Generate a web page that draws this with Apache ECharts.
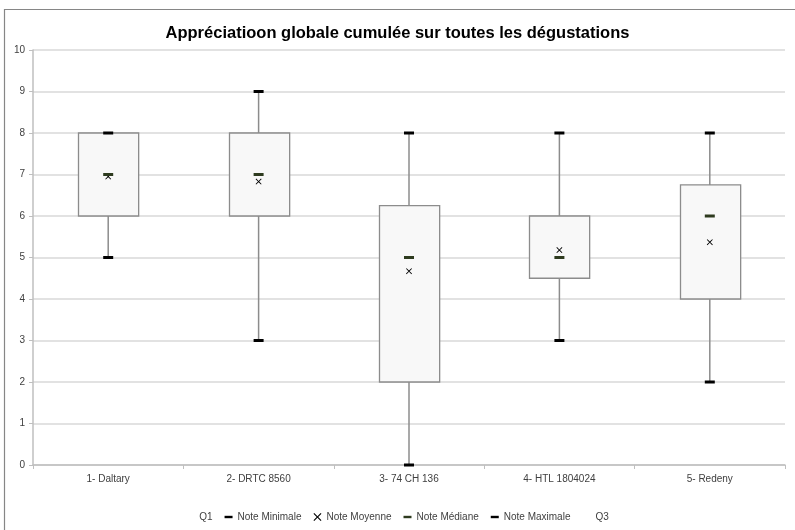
<!DOCTYPE html>
<html><head><meta charset="utf-8">
<script src="https://cdn.jsdelivr.net/npm/echarts@6/dist/echarts.min.js"></script>
<style>html,body{margin:0;padding:0;background:#fff}#c{width:795px;height:530px}</style>
</head><body><div id="c"></div>
<script>
var categories = ['1- Daltary', '2- DRTC 8560', '3- 74 CH 136', '4- HTL 1804024', '5- Redeny'];
var noteMin = [5, 3, 0, 3, 2];
var q1 = [6, 6, 2, 4.5, 4];
var median = [7, 7, 5, 5, 6];
var q3 = [8, 8, 6.25, 6, 6.75];
var noteMax = [8, 9, 8, 8, 8];
var mean = [6.95, 6.83, 4.67, 5.18, 5.37];
var yTicks = [0, 1, 2, 3, 4, 5, 6, 7, 8, 9, 10];

var dash = 'path://M0,0L10,0L10,3L0,3Z';
var cross = 'path://M0,1L1,0L5,4L9,0L10,1L6,5L10,9L9,10L5,6L1,10L0,9L4,5Z';
var FONT = '"Liberation Sans", Arial, sans-serif';

var chart = echarts.init(document.getElementById('c'), null, {renderer: 'canvas'});

function whiskerItem(params, api) {
  var x = api.value(0);
  var lo = api.coord([x, api.value(1)]);
  var hi = api.coord([x, api.value(2)]);
  return {type: 'line', shape: {x1: lo[0], y1: lo[1], x2: hi[0], y2: hi[1]},
          style: {stroke: '#8c8c8c', lineWidth: 1.5}};
}
function boxItem(params, api) {
  var x = api.value(0);
  var lo = api.coord([x, api.value(1)]);
  var hi = api.coord([x, api.value(2)]);
  var w = api.size([1, 0])[0] * 0.4;
  return {type: 'rect', shape: {x: Math.round(lo[0] - w / 2) + 0.5, y: hi[1], width: w, height: lo[1] - hi[1]},
          style: {fill: '#f8f8f8', stroke: '#8c8c8c', lineWidth: 1.3}};
}

chart.setOption({
  animation: false,
  textStyle: {fontFamily: FONT},
  title: {text: 'Appréciatioon globale cumulée sur toutes les dégustations', left: 'center', top: 20,
          textStyle: {fontFamily: FONT, fontSize: 16.5, fontWeight: 'bold', color: '#000'}},
  graphic: [{type: 'rect', shape: {x: 4.5, y: 9.5, width: 820, height: 560}, style: {fill: 'none', stroke: '#868686', lineWidth: 1.2}, silent: true}],
  grid: {left: 33, right: 10, top: 50, bottom: 65},
  legend: {
    bottom: 3, left: 'center', itemWidth: 8, itemHeight: 8, itemGap: 12,
    textStyle: {fontFamily: FONT, fontSize: 10, color: '#404040'},
    data: [{name: 'Q1', icon: 'none'}, 'Note Minimale', 'Note Moyenne', 'Note Médiane', 'Note Maximale', {name: 'Q3', icon: 'none'}]
  },
  xAxis: {
    type: 'category', data: categories,
    axisLine: {lineStyle: {color: '#bfbfbf', width: 1.5}},
    axisTick: {show: true, length: 4, lineStyle: {color: '#bfbfbf'}},
    axisLabel: {color: '#404040', fontSize: 10, margin: 9}
  },
  yAxis: {
    type: 'value', min: 0, max: 10, interval: 1,
    axisLine: {show: true, lineStyle: {color: '#bfbfbf', width: 1.5}},
    axisTick: {show: true, length: 4, lineStyle: {color: '#bfbfbf'}},
    axisLabel: {color: '#404040', fontSize: 10, margin: 8,
                formatter: function (v) { return yTicks.indexOf(v) >= 0 ? String(v) : ''; }},
    splitLine: {lineStyle: {color: '#d9d9d9', width: 1.5}}
  },
  series: [
    {name: 'Q1', type: 'custom', renderItem: whiskerItem, z: 1,
     data: categories.map(function (c, i) { return [i, noteMin[i], noteMax[i]]; })},
    {name: 'Q3', type: 'custom', renderItem: boxItem, z: 2,
     data: categories.map(function (c, i) { return [i, q1[i], q3[i]]; })},
    {name: 'Note Minimale', type: 'scatter', symbol: dash, symbolKeepAspect: true, symbolSize: 10, z: 5,
     itemStyle: {color: '#000', opacity: 1}, data: noteMin},
    {name: 'Note Moyenne', type: 'scatter', symbol: cross, symbolKeepAspect: true, symbolSize: 6, z: 5,
     itemStyle: {color: '#000', opacity: 1}, data: mean},
    {name: 'Note Médiane', type: 'scatter', symbol: dash, symbolKeepAspect: true, symbolSize: 10, z: 5,
     itemStyle: {color: '#2e3b1f', opacity: 1}, data: median},
    {name: 'Note Maximale', type: 'scatter', symbol: dash, symbolKeepAspect: true, symbolSize: 10, z: 5,
     itemStyle: {color: '#000', opacity: 1}, data: noteMax}
  ]
});
</script></body></html>
